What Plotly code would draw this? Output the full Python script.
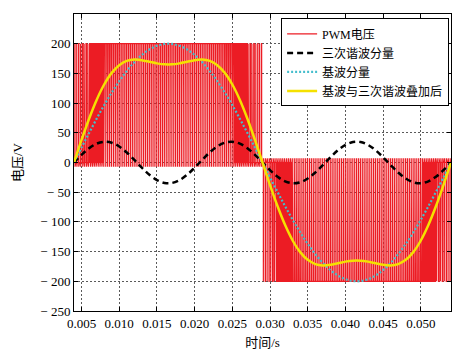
import plotly.graph_objects as go

# ---- data ----
time_s = [0.004, 0.005, 0.006, 0.007, 0.008, 0.009, 0.010, 0.011, 0.012, 0.013,
          0.014, 0.015, 0.016, 0.017, 0.018, 0.019, 0.020, 0.021, 0.022, 0.023,
          0.024, 0.025, 0.026, 0.027, 0.028, 0.029, 0.030, 0.031, 0.032, 0.033,
          0.034, 0.035, 0.036, 0.037, 0.038, 0.039, 0.040, 0.041, 0.042, 0.043,
          0.044, 0.045, 0.046, 0.047, 0.048, 0.049, 0.050, 0.051, 0.052, 0.053,
          0.054]

fundamental = [0, 25.1, 49.7, 73.6, 96.4, 117.6, 136.9, 154.1, 168.9, 181.0,
               190.2, 196.5, 199.6, 199.6, 196.5, 190.2, 181.0, 168.9, 154.1, 136.9,
               117.6, 96.4, 73.6, 49.7, 25.1, 0, -25.1, -49.7, -73.6, -96.4,
               -117.6, -136.9, -154.1, -168.9, -181.0, -190.2, -196.5, -199.6, -199.6, -196.5,
               -190.2, -181.0, -168.9, -154.1, -136.9, -117.6, -96.4, -73.6, -49.7, -25.1,
               0]

third_harmonic = [0, 12.9, 24.0, 31.7, 34.9, 33.3, 27.0, 16.9, 4.4, -8.7,
                  -20.6, -29.6, -34.4, -34.4, -29.6, -20.6, -8.7, 4.4, 16.9, 27.0,
                  33.3, 34.9, 31.7, 24.0, 12.9, 0, -12.9, -24.0, -31.7, -34.9,
                  -33.3, -27.0, -16.9, -4.4, 8.7, 20.6, 29.6, 34.4, 34.4, 29.6,
                  20.6, 8.7, -4.4, -16.9, -27.0, -33.3, -34.9, -31.7, -24.0, -12.9,
                  0]

combined = [0, 38.0, 73.7, 105.3, 131.3, 150.9, 163.9, 171.0, 173.3, 172.3,
            169.6, 166.9, 165.2, 165.2, 166.9, 169.6, 172.3, 173.3, 171.0, 163.9,
            150.9, 131.3, 105.3, 73.7, 38.0, 0, -38.0, -73.7, -105.3, -131.3,
            -150.9, -163.9, -171.0, -173.3, -172.3, -169.6, -166.9, -165.2, -165.2, -166.9,
            -169.6, -172.3, -173.3, -171.0, -163.9, -150.9, -131.3, -105.3, -73.7, -38.0,
            0]

pwm_level = 200          # DC bus voltage of the PWM pulses
pwm_ringing = 7          # small over/undershoot after each edge
pulses_per_sample = 4    # carrier pulses in each 1 ms sample interval

y_ticks = [250, 200, 150, 100, 50, 0, -50, -100, -150, -200, -250]
y_tick_text = ["250", "200", "150", "100", "50", "0",
               "\u2212 50", "\u2212 100", "\u2212 150", "\u2212 200", "\u2212 250"]
x_ticks = [0.005, 0.010, 0.015, 0.020, 0.025, 0.030, 0.035, 0.040, 0.045, 0.050]
x_tick_text = ["0.005", "0.010", "0.015", "0.020", "0.025",
               "0.030", "0.035", "0.040", "0.045", "0.050"]

# ---- PWM pulse train built from the modulating (combined) reference ----
pwm_x, pwm_y = [], []
for k in range(len(time_s) - 1):
    span = time_s[k + 1] - time_s[k]
    cp = span / pulses_per_sample
    level = (combined[k] + combined[k + 1]) / 2
    duty = abs(level) / pwm_level
    sgn = 1 if level >= 0 else -1
    for p in range(pulses_per_sample):
        a = time_s[k] + p * cp
        mid = a + cp / 2
        r = mid - duty * cp / 2
        f = mid + duty * cp / 2
        pwm_x += [a, r, r, f, f, min(f + cp * 0.15, a + cp)]
        pwm_y += [0, 0, sgn * pwm_level, sgn * pwm_level, -sgn * pwm_ringing, 0]

serif = "'Liberation Serif', 'Times New Roman', 'Noto Sans CJK SC', serif"

fig = go.Figure()
fig.add_trace(go.Scatter(x=pwm_x, y=pwm_y, mode="lines", name="PWM电压",
                         line=dict(color="rgb(236,28,36)", width=1.2)))
fig.add_trace(go.Scatter(x=time_s, y=third_harmonic, mode="lines", name="三次谐波分量",
                         line=dict(color="black", width=2.5, dash="6px,4px", shape="spline")))
fig.add_trace(go.Scatter(x=time_s, y=fundamental, mode="lines", name="基波分量",
                         line=dict(color="rgb(70,190,205)", width=2.2, dash="2px,2px", shape="spline")))
fig.add_trace(go.Scatter(x=time_s, y=combined, mode="lines", name="基波与三次谐波叠加后",
                         line=dict(color="rgb(245,225,0)", width=2.5, shape="spline")))

axis_common = dict(
    showline=True, linecolor="black", linewidth=1, mirror="allticks",
    ticks="inside", ticklen=4, tickcolor="black",
    showgrid=True, gridcolor="rgb(90,90,90)", gridwidth=1, griddash="2px,2px",
    zeroline=False, automargin=False,
    tickfont=dict(family=serif, size=13, color="black"),
)

# the page body adds an 8 px offset, so the figure is sized to fit inside it
fig.update_layout(
    width=462, height=353,
    margin=dict(l=66, r=19, t=6, b=50),
    paper_bgcolor="white", plot_bgcolor="white",
    font=dict(family=serif, color="black"),
    xaxis=dict(range=[0.004, 0.054], tickvals=x_ticks, ticktext=x_tick_text,
               title=dict(text="时间/s", font=dict(family=serif, size=13), standoff=8),
               **axis_common),
    yaxis=dict(range=[-250, 250], tickvals=y_ticks, ticktext=y_tick_text,
               title=dict(text="电压/V", font=dict(family=serif, size=13), standoff=14),
               **axis_common),
    legend=dict(x=0.995, xanchor="right", y=0.985, yanchor="top",
                bgcolor="white", bordercolor="black", borderwidth=1,
                font=dict(family=serif, size=12, color="black"),
                itemwidth=30, tracegroupgap=0),
    showlegend=True,
)

fig.write_html("out.html")
